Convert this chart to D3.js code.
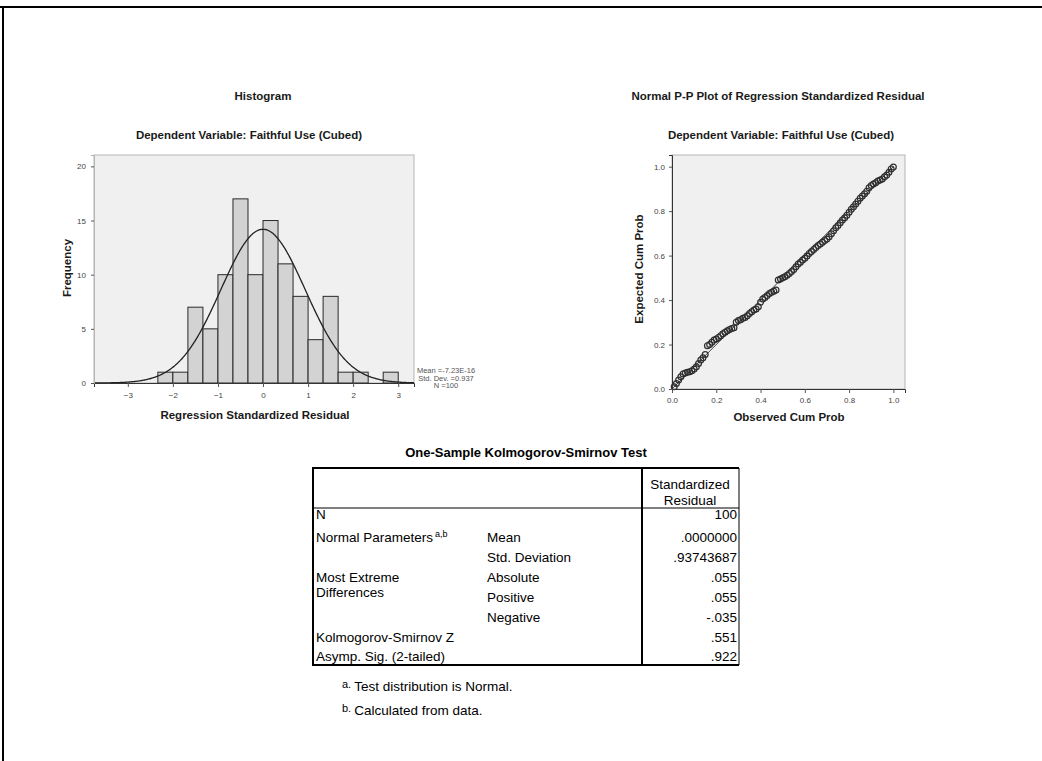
<!DOCTYPE html>
<html><head><meta charset="utf-8">
<script src="https://cdn.jsdelivr.net/npm/d3@7"></script>
<style>
body{margin:0;background:#fff;}
svg text{font-family:"Liberation Sans",Arial,sans-serif;}
</style></head>
<body>
<svg id="c" width="1042" height="761"></svg>
<script>
// ---------- data ----------
const binStarts = [-2.3333,-2,-1.6667,-1.3333,-1,-0.6667,-0.3333,0,0.3333,0.6667,1,1.3333,1.6667,2,2.3333,2.6667];
const binCounts = [1,1,7,5,10,17,10,15,11,8,4,8,1,1,0,1];
const binWidth = 1/3;
const histXTicks = [-3,-2,-1,0,1,2,3];
const histYTicks = [0,5,10,15,20];
const resMean = -7.23e-16, resSD = 0.937, resN = 100;
const statLines = ["Mean =-7.23E-16","Std. Dev. =0.937","N =100"];

const ppObserved = d3.range(1,101).map(i=>i/100);
const ppExpected = [
0.010,0.025,0.040,0.055,0.068,0.072,0.075,0.078,0.082,0.090,
0.100,0.115,0.130,0.140,0.155,0.195,0.200,0.210,0.220,0.225,
0.232,0.240,0.248,0.255,0.262,0.268,0.272,0.275,0.300,0.308,
0.312,0.318,0.322,0.330,0.340,0.348,0.355,0.360,0.370,0.390,
0.405,0.412,0.420,0.430,0.435,0.440,0.445,0.490,0.495,0.500,
0.505,0.512,0.520,0.528,0.538,0.550,0.562,0.570,0.580,0.588,
0.598,0.610,0.618,0.628,0.636,0.645,0.652,0.660,0.668,0.675,
0.685,0.698,0.712,0.725,0.735,0.748,0.760,0.770,0.782,0.795,
0.808,0.820,0.832,0.845,0.858,0.868,0.878,0.890,0.905,0.915,
0.922,0.928,0.935,0.940,0.945,0.955,0.962,0.975,0.990,0.998];
const ppTicks = [0,0.2,0.4,0.6,0.8,1.0];

const tableTitle = "One-Sample Kolmogorov-Smirnov Test";
const tableHeader = ["Standardized","Residual"];
const tableRows = [
  ["N","","100"],
  ["Normal Parameters","Mean",".0000000"],
  ["","Std. Deviation",".93743687"],
  ["Most Extreme","Absolute",".055"],
  ["Differences","Positive",".055"],
  ["","Negative","-.035"],
  ["Kolmogorov-Smirnov Z","",".551"],
  ["Asymp. Sig. (2-tailed)","",".922"]
];
const footnotes = [["a.","Test distribution is Normal."],["b.","Calculated from data."]];

// ---------- drawing ----------
const svg = d3.select("#c");
const FT = "Liberation Sans,Arial,sans-serif";
// outer frame
svg.append("line").attr("x1",0).attr("x2",1042).attr("y1",7).attr("y2",7).attr("stroke","#000").attr("stroke-width",2);
svg.append("line").attr("x1",3).attr("x2",3).attr("y1",6).attr("y2",761).attr("stroke","#000").attr("stroke-width",2);

function title(x,y,t,rot){
  const e = svg.append("text").attr("text-anchor","middle").attr("font-size",11.5).attr("font-weight","bold").attr("fill","#1a1a1a").text(t);
  if(rot) e.attr("transform",`translate(${x},${y}) rotate(-90)`); else e.attr("x",x).attr("y",y);
}
function styleAxis(a,fs){
  a.select(".domain").attr("stroke","#333");
  a.selectAll(".tick line").attr("stroke","#555");
  a.selectAll("text").attr("font-size",fs).attr("fill","#444").attr("font-family",FT);
}

// ===== Histogram =====
const hx = d3.scaleLinear().domain([-3.75,3.35]).range([94,414]);
const hy = d3.scaleLinear().domain([0,21.05]).range([383,155]);
title(263,100,"Histogram");
title(249,139,"Dependent Variable: Faithful Use (Cubed)");
svg.append("rect").attr("x",hx.range()[0]).attr("y",hy.range()[1]).attr("width",hx.range()[1]-hx.range()[0]).attr("height",hy.range()[0]-hy.range()[1]).attr("fill","#f0f0f0").attr("stroke","#b5b5b5").attr("stroke-width",1);
svg.append("g").selectAll("rect").data(binStarts.map((s,i)=>({s,c:binCounts[i]})).filter(d=>d.c>0)).join("rect")
  .attr("x",d=>hx(d.s)).attr("width",d=>hx(d.s+binWidth)-hx(d.s))
  .attr("y",d=>hy(d.c)).attr("height",d=>hy(0)-hy(d.c))
  .attr("fill","#d3d3d3").attr("stroke","#2a2a2a").attr("stroke-width",1);
const curveX = d3.range(-3.75,3.351,0.02);
const dens = x=> resN*binWidth*Math.exp(-0.5*((x-resMean)/resSD)**2)/(resSD*Math.sqrt(2*Math.PI));
svg.append("path").attr("d",d3.line().x(d=>hx(d)).y(d=>hy(dens(d)))(curveX)).attr("fill","none").attr("stroke","#222").attr("stroke-width",1.3);
const hxa = svg.append("g").attr("transform",`translate(0,${hy(0)})`).call(d3.axisBottom(hx).tickValues(histXTicks).tickSize(4).tickPadding(5).tickFormat(d3.format("d")));
const hya = svg.append("g").attr("transform",`translate(${hx.range()[0]},0)`).call(d3.axisLeft(hy).tickValues(histYTicks).tickSize(3).tickPadding(5));
styleAxis(hxa,8); styleAxis(hya,8);
hya.select(".domain").attr("stroke","#b5b5b5");
title(255,419,"Regression Standardized Residual");
title(71,268,"Frequency",true);
svg.append("g").selectAll("text").data(statLines).join("text").attr("x",446).attr("y",(d,i)=>373+i*7.5).attr("text-anchor","middle").attr("font-size",7.5).attr("fill","#555").text(d=>d);

// ===== P-P plot =====
const px = d3.scaleLinear().domain([0,1.0525]).range([672,905]);
const py = d3.scaleLinear().domain([0,1.0525]).range([389,155]);
title(778,100,"Normal P-P Plot of Regression Standardized Residual");
title(781,139,"Dependent Variable: Faithful Use (Cubed)");
svg.append("rect").attr("x",px.range()[0]).attr("y",py.range()[1]).attr("width",px.range()[1]-px.range()[0]).attr("height",py.range()[0]-py.range()[1]).attr("fill","#f0f0f0").attr("stroke","#b5b5b5").attr("stroke-width",1);
svg.append("line").attr("x1",px(0)).attr("y1",py(0)).attr("x2",px(1)).attr("y2",py(1)).attr("stroke","#444").attr("stroke-width",1);
svg.append("g").selectAll("circle").data(ppObserved.map((o,i)=>[o,ppExpected[i]])).join("circle")
  .attr("cx",d=>px(d[0])).attr("cy",d=>py(d[1])).attr("r",2.9)
  .attr("fill","none").attr("stroke","#2e2e2e").attr("stroke-width",1.2);
const pxa = svg.append("g").attr("transform",`translate(0,${py(0)})`).call(d3.axisBottom(px).tickValues(ppTicks).tickSize(4).tickPadding(4).tickFormat(d3.format(".1f")));
const pya = svg.append("g").attr("transform",`translate(${px(0)},0)`).call(d3.axisLeft(py).tickValues(ppTicks).tickSize(3).tickPadding(4).tickFormat(d3.format(".1f")));
styleAxis(pxa,8); styleAxis(pya,8);
title(789,421,"Observed Cum Prob");
title(643,269,"Expected Cum Prob",true);

// ===== Table =====
const tL=313, tR=739, tSep=642, tTop=468, tHead=508, tBot=665;
svg.append("text").attr("x",526).attr("y",457).attr("text-anchor","middle").attr("font-size",13).attr("font-weight","bold").attr("fill","#000").text(tableTitle);
svg.append("line").attr("x1",tL).attr("x2",tR).attr("y1",tTop).attr("y2",tTop).attr("stroke","#000").attr("stroke-width",2);
svg.append("line").attr("x1",tL).attr("x2",tR).attr("y1",tBot).attr("y2",tBot).attr("stroke","#000").attr("stroke-width",2);
svg.append("line").attr("x1",tL).attr("x2",tL).attr("y1",tTop-1).attr("y2",tBot+1).attr("stroke","#000").attr("stroke-width",2);
svg.append("line").attr("x1",tR).attr("x2",tR).attr("y1",tTop).attr("y2",tBot).attr("stroke","#000").attr("stroke-width",1);
svg.append("line").attr("x1",tSep).attr("x2",tSep).attr("y1",tTop).attr("y2",tBot).attr("stroke","#000").attr("stroke-width",2);
svg.append("line").attr("x1",tL).attr("x2",tR).attr("y1",tHead).attr("y2",tHead).attr("stroke","#000").attr("stroke-width",1);
const FS = 13.5;
tableHeader.forEach((h,i)=>svg.append("text").attr("x",690).attr("y",489+i*16).attr("text-anchor","middle").attr("font-size",FS).text(h));
const rowY = [519,542,562,582,602,622,642,661];
const rowYlabel = [519,542,562,582,597,622,642,661];
const tr = svg.append("g").attr("font-size",FS).attr("fill","#000");
tableRows.forEach((r,i)=>{
  const l = tr.append("text").attr("x",316).attr("y",rowYlabel[i]).text(r[0]);
  if(i===1) l.append("tspan").attr("font-size",9).attr("dy",-5).attr("dx",2).text("a,b");
  tr.append("text").attr("x",487).attr("y",rowY[i]).text(r[1]);
  tr.append("text").attr("x",737).attr("y",rowY[i]).attr("text-anchor","end").text(r[2]);
});
footnotes.forEach((f,i)=>{
  const t = svg.append("text").attr("x",342).attr("y",691+i*24).attr("font-size",FS);
  t.append("tspan").attr("font-size",11).attr("dy",-3).text(f[0]);
  t.append("tspan").attr("dy",3).attr("dx",3).text(f[1]);
});
</script>
</body></html>
